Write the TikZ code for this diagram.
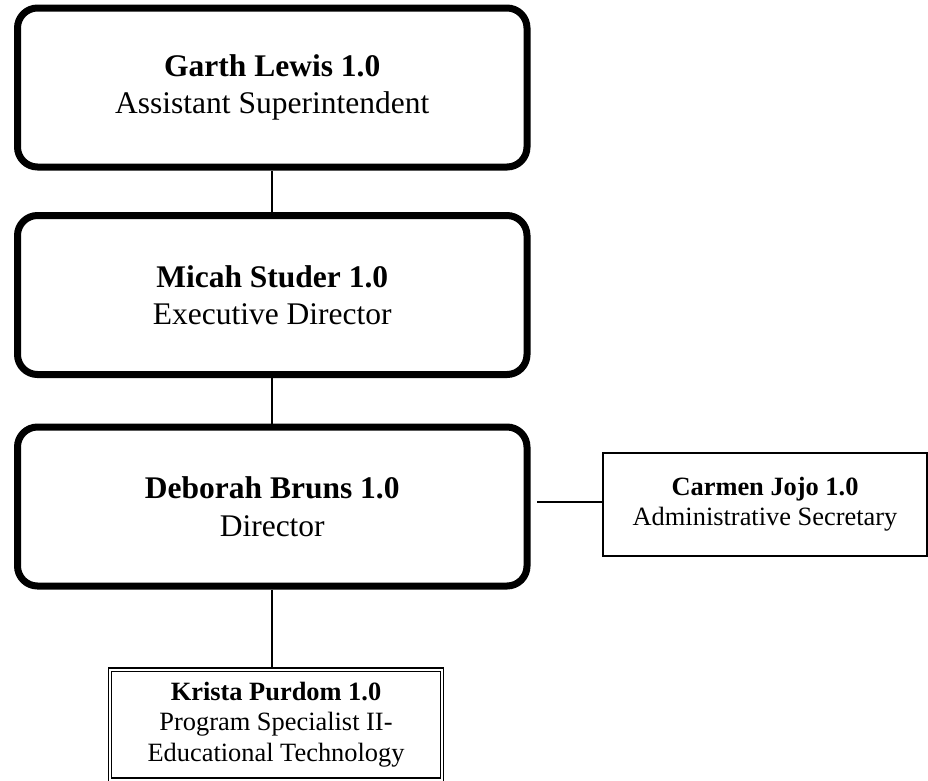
\documentclass[tikz,border=0pt]{standalone}
\usepackage{fontspec}
\setmainfont{Liberation Serif}
\begin{document}
\begin{tikzpicture}[x=1pt,y=-1pt,
  bigbox/.style={draw, line width=7pt, rounded corners=20pt, minimum width=509.5pt, minimum height=159pt, align=center, font=\fontsize{31.5}{37.5}\selectfont, inner sep=0pt},
  secbox/.style={draw, line width=2.2pt, minimum width=324pt, minimum height=103pt, align=center, font=\fontsize{26.4}{30}\selectfont, inner sep=0pt},
  spcbox/.style={draw, double, double distance=2pt, line width=1.2pt, minimum width=332pt, minimum height=110pt, align=center, font=\fontsize{26.4}{30.5}\selectfont, inner sep=0pt},
  link/.style={line width=2pt}]
\useasboundingbox (0,0) rectangle (928,780);
\node[bigbox] (g) at (272.25,87.5) {\textbf{Garth Lewis 1.0}\\Assistant Superintendent};
\node[bigbox] (m) at (272.25,295) {\textbf{Micah Studer 1.0}\\Executive Director};
\node[bigbox] (d) at (272.25,506.5) {\textbf{Deborah Bruns 1.0}\\Director};
\node[secbox] (c) at (765,504.5) {\textbf{Carmen Jojo 1.0}\\Administrative Secretary};
\node[spcbox] (k) at (276,724.5) {\textbf{Krista Purdom 1.0}\\Program Specialist II-\\Educational Technology};
\coordinate (cl) at (537,502);
\draw[link] (g.south -| 272,0) -- (m.north -| 272,0);
\draw[link] (m.south -| 272,0) -- (d.north -| 272,0);
\draw[link] (d.south -| 272,0) -- (k.north -| 272,0);
\draw[link] (cl) -- (cl -| c.west);
\end{tikzpicture}
\end{document}
